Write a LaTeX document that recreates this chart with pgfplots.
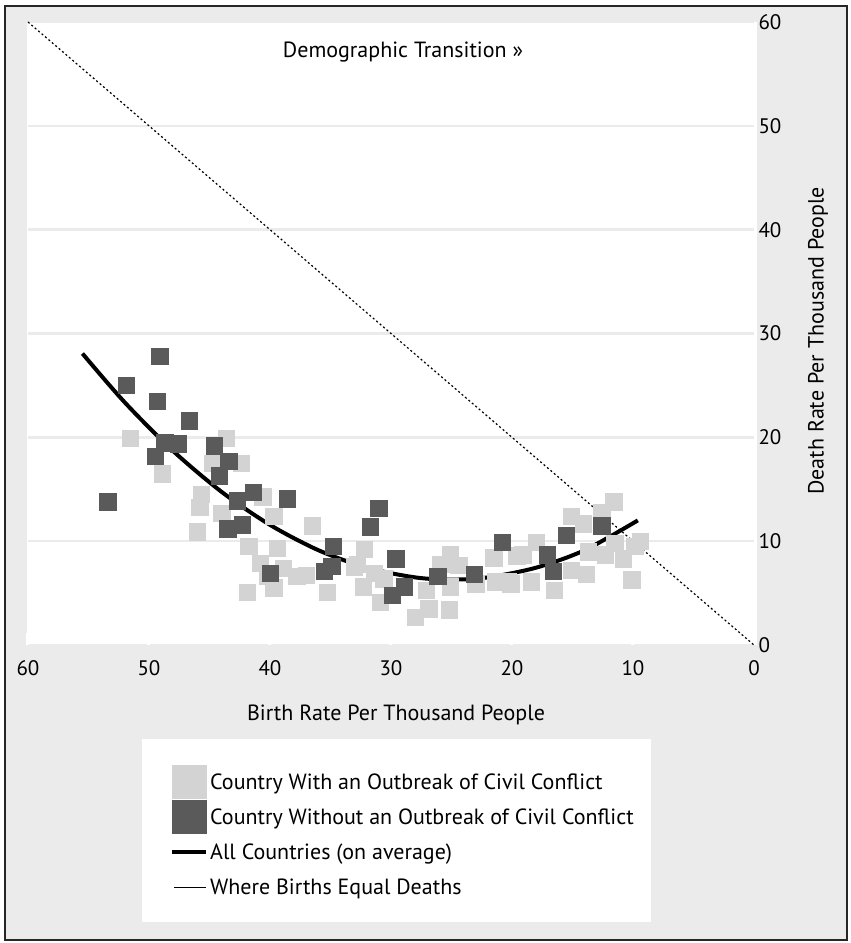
\documentclass[border=0pt]{standalone}
\usepackage{pgfplots}
\pgfplotsset{compat=1.18}
\usepackage{fontspec}
\setmainfont{PT Sans}
\definecolor{bg}{HTML}{EBEBEB}
\definecolor{lightsq}{HTML}{D3D3D3}
\definecolor{darksq}{HTML}{5A5A5A}
\newcommand{\fs}{\fontsize{22}{25}\selectfont}
\newcommand{\ts}{\fontsize{21}{24}\selectfont}
\begin{document}
\begin{tikzpicture}[x=1pt,y=1pt]
% frame and panels
\fill[white] (0,0) rectangle (851,943);
\fill[bg,draw=black!85,line width=1.5pt] (5,3) rectangle (847,937);
\fill[white] (27,298) rectangle (757,921);
\fill[white] (142,21) rectangle (651,204);
\begin{axis}[
  at={(28pt,298pt)}, anchor=south west,
  scale only axis, width=726pt, height=623pt,
  x dir=reverse,
  xmin=0, xmax=60, ymin=0, ymax=60,
  xtick={0,10,...,60}, ytick={0,10,...,60},
  axis line style={draw=none},
  xtick pos=left,
  xtick align=inside, major tick length=12pt,
  xtick style={white, line width=3pt},
  ytick style={draw=none},
  xticklabel style={yshift=-12pt},
  yticklabel pos=right,
  yticklabel style={anchor=west, xshift=1pt},
  ticklabel style={font=\ts},
  /pgf/number format/assume math mode=true,
  ymajorgrids, grid style={bg, line width=2.5pt},
  clip=false,
  legend cell align=left,
  legend style={at={(0.1956,-0.1918)}, anchor=north west, draw=none, fill=none,
    inner sep=0pt, row sep=0pt, column sep=0pt,
    nodes={inner sep=0pt, anchor=west}, font=\fs},
]
\addplot[only marks, draw=lightsq, mark=square*, mark size=8.2pt,
  mark options={draw=lightsq, fill=lightsq},
  legend image code/.code={\path[draw=none,fill=none] (0pt,-17.5pt) rectangle (38pt,17.5pt);
    \fill[lightsq] (0pt,-16.5pt) rectangle (34pt,16.5pt);}]
coordinates {
(51.55,19.9) (48.9,16.5) (43.6,19.9) (42.4,17.5) (44.8,17.5) (45.7,14.5)
(45.8,13.3) (44.0,12.7) (40.6,14.3) (39.7,12.4) (46.0,10.9) (36.5,11.5)
(41.75,9.5) (39.4,9.3) (40.2,6.6) (40.8,7.9) (38.9,7.4) (37.8,6.6)
(37.0,6.7) (41.9,5.1) (39.7,5.5) (35.25,5.1) (32.2,9.2) (32.8,7.8)
(32.3,5.6) (31.4,6.9) (30.9,4.1) (28.0,2.7) (26.9,3.5) (25.2,3.4)
(27.1,5.3) (25.1,8.7) (25.9,7.8) (24.4,7.7) (25.1,5.6) (23.0,5.9)
(21.5,8.4) (21.35,6.1) (20.3,6.1) (19.6,8.6) (19.1,8.7) (18.0,9.9)
(18.4,6.1) (20.1,5.9) (16.5,5.3) (15.1,7.2) (13.85,6.8) (13.7,9.0)
(12.3,8.7) (14.1,11.7) (15.1,12.4) (12.6,12.8) (11.6,13.8) (11.5,9.8)
(10.8,8.3) (9.85,9.5) (9.4,10.0) (10.1,6.3) (30.6,6.4) (33.05,7.55)
};
\addlegendentry{Country With an Outbreak of Civil Conflict}
\addplot[only marks, draw=darksq, mark=square*, mark size=8.2pt,
  mark options={draw=darksq, fill=darksq},
  legend image code/.code={\path[draw=none,fill=none] (0pt,-17.5pt) rectangle (38pt,17.5pt);
    \fill[darksq] (0pt,-16.5pt) rectangle (34pt,16.5pt);}]
coordinates {
(53.4,13.8) (51.9,25.0) (49.1,27.8) (49.3,23.5) (46.7,21.6) (48.7,19.5)
(47.6,19.4) (49.5,18.2) (44.6,19.2) (43.4,17.7) (44.2,16.3) (41.4,14.7)
(42.7,13.9) (38.6,14.1) (42.3,11.6) (43.5,11.2) (31.0,13.2) (31.7,11.4)
(34.8,9.5) (35.5,7.1) (34.9,7.6) (40.0,6.9) (29.6,8.3) (28.9,5.6)
(29.9,4.8) (26.15,6.6) (23.1,6.8) (20.8,9.9) (15.5,10.6) (12.6,11.5)
(17.1,8.7) (16.6,7.1)
};
\addlegendentry{Country Without an Outbreak of Civil Conflict}
\addplot[black, line width=4pt, smooth,
  legend image code/.code={\path[draw=none,fill=none] (0pt,-17.5pt) rectangle (38pt,17.5pt);
    \draw[black, line width=4pt] (0pt,0pt) -- (34pt,0pt);}]
coordinates {
(55.5,28.07) (52,23.36) (48,18.68) (44,14.75) (40,11.57) (36,9.13)
(32,7.45) (28,6.51) (25,6.30) (22,6.51) (18,7.45) (14,9.13) (9.6,12.0)
};
\addlegendentry{All Countries (on average)}
\addplot[black, line width=1.2pt, dash pattern=on 2pt off 2.5pt,
  legend image code/.code={\path[draw=none,fill=none] (0pt,-17.5pt) rectangle (38pt,17.5pt);
    \draw[black, line width=1pt, solid] (2pt,0pt) -- (34pt,0pt);}]
coordinates {(60,60) (0,0)};
\addlegendentry{Where Births Equal Deaths}
\end{axis}
\node[font=\fs] at (403,891) {Demographic Transition »};
\node[font=\fs] at (396,228) {Birth Rate Per Thousand People};
\node[font=\fs, rotate=90] at (818,602) {Death Rate Per Thousand People};
\end{tikzpicture}
\end{document}
